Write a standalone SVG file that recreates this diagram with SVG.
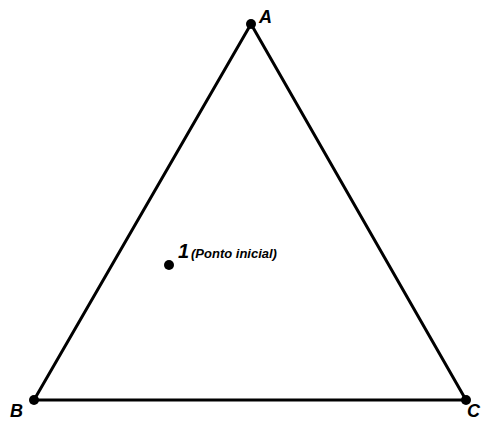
<svg xmlns="http://www.w3.org/2000/svg" width="481" height="421" viewBox="0 0 481 421">
<style>
.edge{stroke:#000;stroke-width:3;fill:none;stroke-linecap:round}
.pt{fill:#000}
.lbl{font-family:"Liberation Sans",Arial,sans-serif;font-weight:bold;font-style:italic;fill:#000}
.v{font-size:18px}
</style>
<rect width="481" height="421" fill="#fff"/>
<g id="connectors">
<line class="edge" x1="251" y1="24" x2="34" y2="400"/>
<line class="edge" x1="251" y1="24" x2="466" y2="400"/>
<line class="edge" x1="34" y1="400" x2="466" y2="400"/>
</g>
<g id="A"><circle class="pt" cx="251" cy="24" r="5"/><text class="lbl v" x="259" y="23">A</text></g>
<g id="B"><circle class="pt" cx="34" cy="400" r="5"/><text class="lbl v" x="10" y="417">B</text></g>
<g id="C"><circle class="pt" cx="466" cy="400" r="5"/><text class="lbl v" x="467" y="417">C</text></g>
<g id="P1"><circle class="pt" cx="169" cy="265" r="5"/><text class="lbl" x="178" y="258" font-size="20">1</text><text class="lbl" x="191" y="258" font-size="13">(Ponto inicial)</text></g>
</svg>
